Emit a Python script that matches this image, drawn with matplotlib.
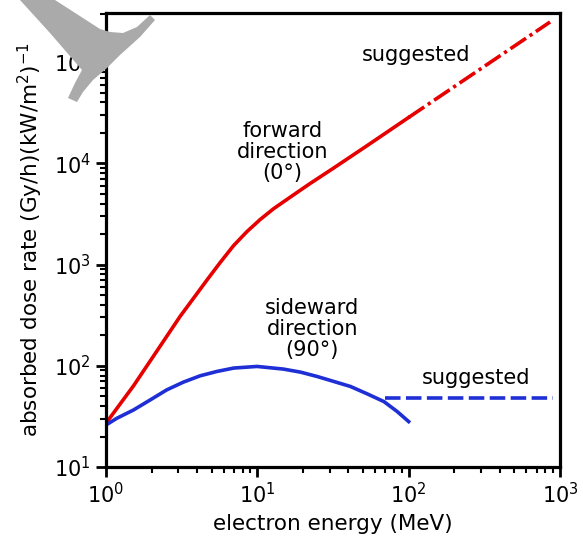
import matplotlib
matplotlib.use("Agg")
import matplotlib.pyplot as plt
from matplotlib.patches import Polygon

# forward direction (0 deg)
e_fwd = [1, 1.52, 2.17, 3.09, 4.76, 5.69, 6.97, 8.55, 10.47, 12.8, 15.7, 19.3, 22.4, 32, 53.3, 100]
d_fwd = [27.1, 63.4, 140, 308, 738, 1050, 1540, 2120, 2795, 3560, 4400, 5445, 6340, 9000, 15000,
         28400]
e_fwd_sugg = [100, 860]
d_fwd_sugg = [28400, 249000]

# sideward direction (90 deg)
e_side = [1, 1.18, 1.52, 1.96, 2.52, 3.25, 4.19, 5.41, 6.97, 9.95, 14.9, 19.3, 24.9, 32, 41.3,
          53.2, 68.6, 84, 100]
d_side = [26, 30.3, 36.6, 46, 57.8, 69, 79.6, 87.9, 94.9, 98.5, 92.7, 86.5, 78.3, 70, 62.4,
          52.8, 44.3, 35.3, 28.1]
e_side_sugg = [70, 900]
d_side_sugg = [48, 48]

red = '#e60000'
blue = '#1f2fd6'

plt.rcParams['font.family'] = ['DejaVu Sans']

fig = plt.figure(figsize=(5.83, 5.38), dpi=100)
ax = fig.add_axes([106/583, 71/538, 454/583, 454/538])

ax.plot(e_fwd, d_fwd, color=red, lw=2.6, solid_joinstyle='round')
ax.plot(e_fwd_sugg, d_fwd_sugg, color=red, lw=2.6, ls=(0, (5.2, 1.2, 0.9, 1.2)))
ax.plot(e_side, d_side, color=blue, lw=2.6, solid_joinstyle='round')
ax.plot(e_side_sugg, d_side_sugg, color=blue, lw=2.6, ls=(0, (4.3, 1.5)))

ax.set_xscale('log')
ax.set_yscale('log')
ax.set_xlim(1, 1000)
ax.set_ylim(10, 10**5.485)

for s in ax.spines.values():
    s.set_linewidth(2.3)
ax.tick_params(which='major', direction='out', length=7, width=2, labelsize=15, pad=4)
ax.tick_params(which='minor', direction='out', length=4, width=1.5)

ax.set_xlabel('electron energy (MeV)', fontsize=15.5, labelpad=5)
ax.set_ylabel(r'absorbed dose rate (Gy/h)(kW/m$^2$)$^{-1}$', fontsize=15.5, labelpad=6)

ax.text(14.6, 12850, 'forward\ndirection\n(0°)', fontsize=15, ha='center', va='center',
        linespacing=1.05)
ax.text(23.1, 232, 'sideward\ndirection\n(90°)', fontsize=15, ha='center', va='center',
        linespacing=1.05)
ax.text(0.683, 0.907, 'suggested', fontsize=15, ha='center', va='center', transform=ax.transAxes)
ax.text(0.815, 0.196, 'suggested', fontsize=15, ha='center', va='center', transform=ax.transAxes)

# grey mark in the top left corner
pts = [(20, 0), (55, 0), (100, 29), (110, 32), (123, 33), (137, 27), (150, 15), (155, 20),
       (140, 37), (120, 55), (107, 68), (93, 80), (83, 92), (77, 102), (68, 98), (75, 83),
       (82, 70), (50, 33)]
pts = [(x / 583, 1 - y / 538) for x, y in pts]
fig.patches.append(Polygon(pts, closed=True, transform=fig.transFigure,
                           facecolor='#aaaaaa', edgecolor='none', zorder=1))

fig.savefig('out.png', dpi=100)
